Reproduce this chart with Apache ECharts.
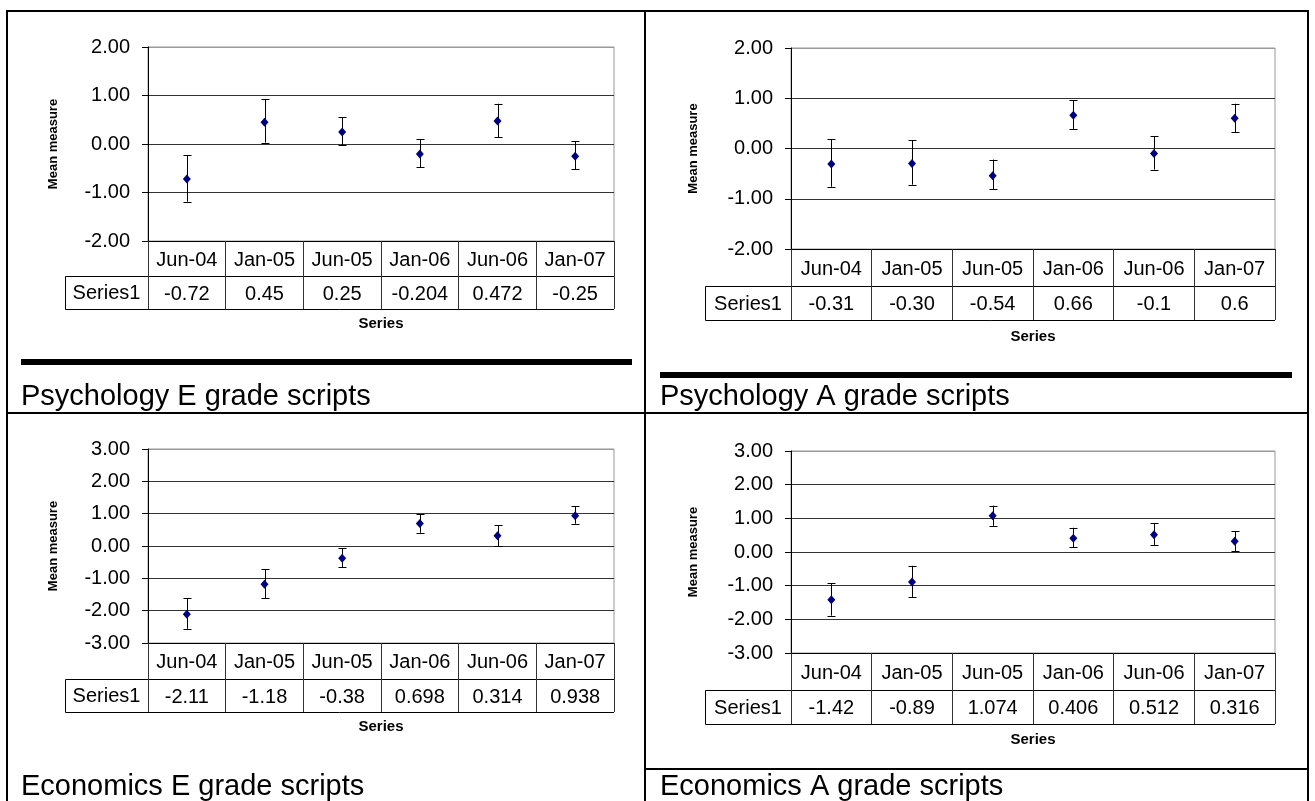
<!DOCTYPE html>
<html><head><meta charset="utf-8">
<script src="https://cdn.jsdelivr.net/npm/echarts@6/dist/echarts.min.js"></script>
<style>html,body{margin:0;padding:0;background:#fff}#c{width:1315px;height:801px}</style>
</head><body><div id="c"></div>
<script>
// ---- data ----
const categories = ['Jun-04', 'Jan-05', 'Jun-05', 'Jan-06', 'Jun-06', 'Jan-07'];

const psyE_mean  = [-0.72, 0.45, 0.25, -0.204, 0.472, -0.25];
const psyE_table = ['-0.72', '0.45', '0.25', '-0.204', '0.472', '-0.25'];
const psyE_low   = [-1.19, 0.03, -0.02, -0.48, 0.14, -0.52];
const psyE_high  = [-0.23, 0.92, 0.55, 0.10, 0.83, 0.06];

const psyA_mean  = [-0.31, -0.30, -0.54, 0.66, -0.1, 0.6];
const psyA_table = ['-0.31', '-0.30', '-0.54', '0.66', '-0.1', '0.6'];
const psyA_low   = [-0.76, -0.72, -0.81, 0.39, -0.42, 0.32];
const psyA_high  = [0.18, 0.16, -0.22, 0.96, 0.25, 0.89];

const ecoE_mean  = [-2.11, -1.18, -0.38, 0.698, 0.314, 0.938];
const ecoE_table = ['-2.11', '-1.18', '-0.38', '0.698', '0.314', '0.938'];
const ecoE_low   = [-2.56, -1.61, -0.65, 0.41, 0.00, 0.69];
const ecoE_high  = [-1.61, -0.72, -0.07, 0.99, 0.65, 1.23];

const ecoA_mean  = [-1.42, -0.89, 1.074, 0.406, 0.512, 0.316];
const ecoA_table = ['-1.42', '-0.89', '1.074', '0.406', '0.512', '0.316'];
const ecoA_low   = [-1.89, -1.34, 0.78, 0.14, 0.21, 0.03];
const ecoA_high  = [-0.93, -0.41, 1.38, 0.72, 0.86, 0.62];

const titles = ['Psychology E grade scripts', 'Psychology A grade scripts',
                'Economics E grade scripts', 'Economics A grade scripts'];
const rowName = 'Series1';
const xName = 'Series';
const yName = 'Mean measure';

// ---- layout ----
const FONT = "'Liberation Sans', Arial, Helvetica, sans-serif";
const LBL = 20;
const panels = [
  {mean: psyE_mean, table: psyE_table, low: psyE_low, high: psyE_high, yMin: -2, yMax: 2,
   g: {left: 148, top: 47, width: 466, height: 194}, headerH: 35, rowH: 33, tableLeft: 65, yGap: 88, xGap: 40},
  {mean: psyA_mean, table: psyA_table, low: psyA_low, high: psyA_high, yMin: -2, yMax: 2,
   g: {left: 791, top: 48, width: 484, height: 201}, headerH: 37, rowH: 34, tableLeft: 705, yGap: 91, xGap: 43},
  {mean: ecoE_mean, table: ecoE_table, low: ecoE_low, high: ecoE_high, yMin: -3, yMax: 3,
   g: {left: 148, top: 449, width: 466, height: 194}, headerH: 36, rowH: 33, tableLeft: 65, yGap: 88, xGap: 40},
  {mean: ecoA_mean, table: ecoA_table, low: ecoA_low, high: ecoA_high, yMin: -3, yMax: 3,
   g: {left: 791, top: 451, width: 484, height: 202}, headerH: 37, rowH: 34, tableLeft: 705, yGap: 91, xGap: 42}
];
const titlePos = [[21, 397], [660, 397], [21, 787], [660, 787]];

const grids = [], xAxes = [], yAxes = [], series = [], graphics = [];

function errRender(params, api) {
  const x = api.value(0), lo = api.value(1), hi = api.value(2);
  const a = api.coord([x, lo]), b = api.coord([x, hi]);
  const cx = Math.round(a[0]) + 0.5, hw = 4;
  const st = {stroke: '#000', lineWidth: 1};
  return {type: 'group', children: [
    {type: 'line', shape: {x1: cx, y1: a[1], x2: cx, y2: b[1]}, style: st},
    {type: 'line', shape: {x1: cx - hw, y1: Math.round(a[1]) + 0.5, x2: cx + hw, y2: Math.round(a[1]) + 0.5}, style: st},
    {type: 'line', shape: {x1: cx - hw, y1: Math.round(b[1]) + 0.5, x2: cx + hw, y2: Math.round(b[1]) + 0.5}, style: st}
  ]};
}

panels.forEach((p, i) => {
  const g = p.g;
  grids.push({left: g.left, top: g.top, width: g.width, height: g.height, show: true,
    borderColor: '#999', borderWidth: 1, backgroundColor: 'transparent', containLabel: false});
  const labelStyle = {fontSize: LBL, color: '#000', fontFamily: FONT, interval: 0};
  xAxes.push({type: 'category', gridIndex: i, position: 'bottom', data: categories, boundaryGap: true,
    axisLine: {show: true, onZero: false, lineStyle: {color: '#000', width: 1}},
    axisTick: {show: true, interval: 0, alignWithLabel: false, length: p.headerH, lineStyle: {color: '#333'}},
    axisLabel: Object.assign({margin: Math.round((p.headerH - LBL) / 2) + 1}, labelStyle),
    splitLine: {show: false}});
  xAxes.push({type: 'category', gridIndex: i, position: 'bottom', offset: p.headerH, data: p.table, boundaryGap: true,
    axisLine: {show: true, onZero: false, lineStyle: {color: '#000', width: 1}},
    axisTick: {show: true, interval: 0, alignWithLabel: false, length: p.rowH, lineStyle: {color: '#333'}},
    axisLabel: Object.assign({margin: Math.round((p.rowH - LBL) / 2) + 1}, labelStyle),
    splitLine: {show: false},
    name: xName, nameLocation: 'middle', nameGap: p.xGap,
    nameTextStyle: {fontWeight: 'bold', fontSize: 15, color: '#000', fontFamily: FONT}});
  const nLines = p.yMax - p.yMin + 1;
  const cols = [];
  for (let k = 0; k < nLines; k++) cols.push(k === nLines - 1 ? '#999' : '#333');
  yAxes.push({type: 'value', gridIndex: i, min: p.yMin, max: p.yMax, interval: 1,
    axisLine: {show: true, onZero: false, lineStyle: {color: '#000', width: 1}},
    axisTick: {show: true, length: 6, lineStyle: {color: '#000'}},
    axisLabel: {formatter: v => v.toFixed(2), fontSize: LBL, margin: 18, color: '#000', fontFamily: FONT},
    splitLine: {show: true, lineStyle: {color: cols, width: 1}},
    name: yName, nameLocation: 'middle', nameGap: p.yGap,
    nameTextStyle: {fontWeight: 'bold', fontSize: 13, color: '#000', fontFamily: FONT}});
  series.push({type: 'custom', xAxisIndex: 2 * i, yAxisIndex: i, renderItem: errRender, z: 2, silent: true,
    encode: {x: 0, y: [1, 2]}, clip: false,
    data: p.low.map((l, k) => [k, l, p.high[k]])});
  series.push({type: 'scatter', xAxisIndex: 2 * i, yAxisIndex: i, data: p.mean, symbol: 'diamond',
    symbolSize: [8, 9], itemStyle: {color: '#000080', opacity: 1}, z: 3, silent: true});

  // table frame (Series1 cell + bottom line)
  const plotBottom = g.top + g.height, hb = plotBottom + p.headerH, rb = hb + p.rowH;
  const right = g.left + g.width;
  graphics.push({type: 'polyline', shape: {points: [[g.left, hb + 0.5], [p.tableLeft + 0.5, hb + 0.5],
      [p.tableLeft + 0.5, rb + 0.5], [right, rb + 0.5]]}, style: {stroke: '#000', lineWidth: 1, fill: 'none'}});
  graphics.push({type: 'line', shape: {x1: right + 0.5, y1: plotBottom, x2: right + 0.5, y2: rb}, style: {stroke: '#333', lineWidth: 1}});
  graphics.push({type: 'text', x: (p.tableLeft + g.left) / 2, y: (hb + rb) / 2 + 1,
    style: {text: rowName, fontSize: LBL, fontFamily: FONT, fill: '#000', align: 'center', verticalAlign: 'middle'}});
  graphics.push({type: 'text', x: titlePos[i][0], y: titlePos[i][1],
    style: {text: titles[i], fontSize: 29, fontFamily: FONT, fill: '#000', align: 'left', verticalAlign: 'middle'}});
});

// page frame and rules
graphics.push({type: 'rect', shape: {x: 7, y: 11, width: 1301, height: 800}, style: {fill: 'none', stroke: '#000', lineWidth: 2}});
graphics.push({type: 'line', shape: {x1: 645, y1: 11, x2: 645, y2: 801}, style: {stroke: '#000', lineWidth: 2}});
graphics.push({type: 'line', shape: {x1: 7, y1: 413, x2: 1308, y2: 413}, style: {stroke: '#000', lineWidth: 2}});
graphics.push({type: 'line', shape: {x1: 645, y1: 769, x2: 1308, y2: 769}, style: {stroke: '#000', lineWidth: 2}});
graphics.push({type: 'rect', shape: {x: 21, y: 359, width: 611, height: 6}, style: {fill: '#000'}});
graphics.push({type: 'rect', shape: {x: 660, y: 372, width: 632, height: 6}, style: {fill: '#000'}});

const chart = echarts.init(document.getElementById('c'), null, {renderer: 'canvas'});
chart.setOption({
  backgroundColor: '#fff',
  animation: false,
  grid: grids, xAxis: xAxes, yAxis: yAxes, series: series,
  graphic: {elements: graphics}
});
</script></body></html>
